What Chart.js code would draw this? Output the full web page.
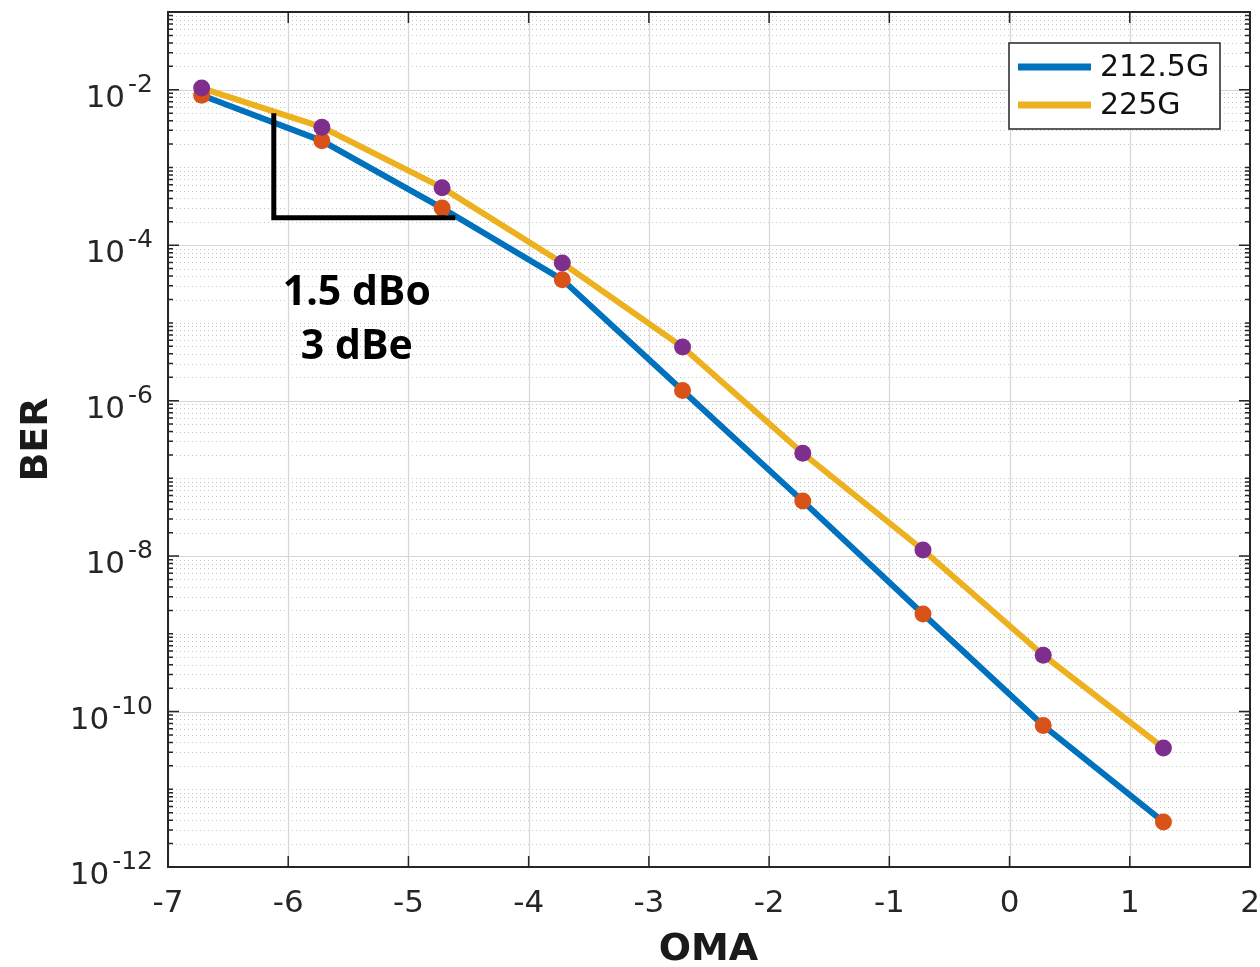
<!DOCTYPE html>
<html>
<head>
<meta charset="utf-8">
<script src="https://cdn.jsdelivr.net/npm/chart.js@4.4.1/dist/chart.umd.min.js"></script>
<style>
  html, body { margin: 0; padding: 0; background: #fff; }
  #wrap { width: 1260px; height: 967px; }
</style>
</head>
<body>
<div id="wrap"><canvas id="berChart" width="1260" height="967"></canvas></div>
<script>
// OMA (dBm) positions of the measured points
const omaValues = [-6.72, -5.72, -4.72, -3.72, -2.72, -1.72, -0.72, 0.28, 1.28];
// BER per rate
const ber212 = [8.5e-3, 2.2e-3, 3.0e-4, 3.6e-5, 1.35e-6, 5.1e-8, 1.8e-9, 6.6e-11, 3.8e-12];
const ber225 = [1.05e-2, 3.3e-3, 5.5e-4, 5.9e-5, 4.9e-6, 2.1e-7, 1.2e-8, 5.3e-10, 3.4e-11];
const seriesNames = ["212.5G", "225G"];

// axis ticks
const xTicks = [-7, -6, -5, -4, -3, -2, -1, 0, 1, 2];
const yExponents = [-12, -10, -8, -6, -4, -2];

// slope annotation (data units)
const slopeX = [-6.12, -4.61];
const slopeY = [5.0e-3, 2.25e-4];
const noteLines = ["1.5 dBo", "3 dBe"];
const noteX = -5.43;
const noteY = [1.72e-5, 3.4e-6];

const BLUE = "#0072BD", YELLOW = "#EDB120", ORANGE = "#D95319", PURPLE = "#7E2F8E";
const AXIS = "#262626";

function pts(ys) {
  return omaValues.map((x, i) => ({ x: x, y: ys[i] }));
}

// draws the MATLAB-style box, grid, ticks, labels, legend and annotation
const matlabAxes = {
  id: "matlabAxes",
  beforeDatasetsDraw(chart) {
    const { ctx, chartArea: a, scales } = chart;
    const xs = scales.x, ys = scales.y;
    ctx.save();
    ctx.beginPath();
    ctx.rect(a.left, a.top, a.right - a.left, a.bottom - a.top);
    ctx.clip();

    // minor grid (dotted)
    ctx.strokeStyle = "#c4c4c4";
    ctx.lineWidth = 1;
    ctx.setLineDash([1, 3]);
    for (let e = -12; e < -1; e++) {
      for (let k = 1; k <= 9; k++) {
        if (k === 1 && e % 2 === 0) continue;
        const y = Math.round(ys.getPixelForValue(k * Math.pow(10, e))) + 0.5;
        ctx.beginPath();
        ctx.moveTo(a.left, y);
        ctx.lineTo(a.right, y);
        ctx.stroke();
      }
    }
    ctx.setLineDash([]);

    // major grid
    ctx.strokeStyle = "#d6d6d6";
    ctx.lineWidth = 1.2;
    xTicks.forEach((v) => {
      const x = Math.round(xs.getPixelForValue(v)) + 0.5;
      ctx.beginPath();
      ctx.moveTo(x, a.top);
      ctx.lineTo(x, a.bottom);
      ctx.stroke();
    });
    yExponents.forEach((e) => {
      const y = Math.round(ys.getPixelForValue(Math.pow(10, e))) + 0.5;
      ctx.beginPath();
      ctx.moveTo(a.left, y);
      ctx.lineTo(a.right, y);
      ctx.stroke();
    });
    ctx.restore();
  },
  afterDatasetsDraw(chart) {
    const { ctx, chartArea: a, scales } = chart;
    const xs = scales.x, ys = scales.y;
    ctx.save();

    // slope triangle
    ctx.strokeStyle = "#000";
    ctx.lineWidth = 5;
    ctx.lineCap = "butt";
    ctx.beginPath();
    ctx.moveTo(xs.getPixelForValue(slopeX[0]), ys.getPixelForValue(slopeY[0]));
    ctx.lineTo(xs.getPixelForValue(slopeX[0]), ys.getPixelForValue(slopeY[1]));
    ctx.lineTo(xs.getPixelForValue(slopeX[1]), ys.getPixelForValue(slopeY[1]));
    ctx.stroke();

    ctx.fillStyle = "#000";
    ctx.font = "bold 41px 'Open Sans'";
    ctx.textAlign = "center";
    ctx.textBaseline = "alphabetic";
    noteLines.forEach((t, i) => {
      ctx.fillText(t, xs.getPixelForValue(noteX), ys.getPixelForValue(noteY[i]));
    });

    // axes box
    ctx.strokeStyle = AXIS;
    ctx.lineWidth = 2;
    ctx.strokeRect(a.left, a.top, a.right - a.left, a.bottom - a.top);

    // y ticks (inward, both sides)
    ctx.lineWidth = 1.5;
    for (let e = -12; e <= -1; e++) {
      for (let k = 1; k <= 9; k++) {
        const v = k * Math.pow(10, e);
        if (v > 0.1 + 1e-9) continue;
        const y = ys.getPixelForValue(v);
        const len = (k === 1 && e % 2 === 0) ? 11 : 5;
        ctx.beginPath();
        ctx.moveTo(a.left, y);
        ctx.lineTo(a.left + len, y);
        ctx.moveTo(a.right, y);
        ctx.lineTo(a.right - len, y);
        ctx.stroke();
      }
    }
    // x ticks (inward, top and bottom)
    xTicks.forEach((v) => {
      const x = xs.getPixelForValue(v);
      ctx.beginPath();
      ctx.moveTo(x, a.bottom);
      ctx.lineTo(x, a.bottom - 11);
      ctx.moveTo(x, a.top);
      ctx.lineTo(x, a.top + 11);
      ctx.stroke();
    });

    // x tick labels
    ctx.fillStyle = AXIS;
    ctx.font = "31px 'DejaVu Sans'";
    ctx.textAlign = "center";
    xTicks.forEach((v) => {
      ctx.fillText(String(v), xs.getPixelForValue(v), a.bottom + 45);
    });

    // y tick labels with superscript exponent
    const rightEdge = a.left - 15;
    yExponents.forEach((e) => {
      const y = ys.getPixelForValue(Math.pow(10, e));
      const expText = String(e);
      ctx.font = "25px 'DejaVu Sans'";
      const expW = ctx.measureText(expText).width;
      ctx.textAlign = "left";
      ctx.fillText(expText, rightEdge - expW, y + 2);
      ctx.font = "31px 'DejaVu Sans'";
      ctx.textAlign = "right";
      ctx.fillText("10", rightEdge - expW - 3, y + 17);
    });

    // axis titles
    ctx.fillStyle = "#1a1a1a";
    ctx.font = "bold 38px 'DejaVu Sans'";
    ctx.textAlign = "center";
    ctx.fillText("OMA", (a.left + a.right) / 2 - 0.5, 960);
    ctx.save();
    ctx.translate(47, (a.top + a.bottom) / 2);
    ctx.rotate(-Math.PI / 2);
    ctx.fillText("BER", 0, 0);
    ctx.restore();

    // legend
    const lx = 1009, ly = 43, lw = 211, lh = 86;
    ctx.fillStyle = "#fff";
    ctx.fillRect(lx, ly, lw, lh);
    ctx.strokeStyle = AXIS;
    ctx.lineWidth = 1.5;
    ctx.strokeRect(lx, ly, lw, lh);
    const legendColors = [BLUE, YELLOW];
    seriesNames.forEach((name, i) => {
      const yy = ly + 24 + i * 38;
      ctx.strokeStyle = legendColors[i];
      ctx.lineWidth = 7;
      ctx.beginPath();
      ctx.moveTo(lx + 9, yy);
      ctx.lineTo(lx + 82, yy);
      ctx.stroke();
      ctx.fillStyle = "#111";
      ctx.font = "30px 'DejaVu Sans'";
      ctx.textAlign = "left";
      ctx.textBaseline = "middle";
      ctx.fillText(name, lx + 91, yy + 1);
      ctx.textBaseline = "alphabetic";
    });

    ctx.restore();
  }
};

new Chart(document.getElementById("berChart"), {
  type: "line",
  data: {
    datasets: [
      { label: seriesNames[0], data: pts(ber212), borderColor: BLUE, borderWidth: 6, pointRadius: 0, tension: 0, order: 4 },
      { label: seriesNames[1], data: pts(ber225), borderColor: YELLOW, borderWidth: 6, pointRadius: 0, tension: 0, order: 3 },
      { label: "212.5G pts", data: pts(ber212), showLine: false, pointRadius: 8.5, pointBackgroundColor: ORANGE, pointBorderWidth: 0, order: 2 },
      { label: "225G pts", data: pts(ber225), showLine: false, pointRadius: 8.5, pointBackgroundColor: PURPLE, pointBorderWidth: 0, order: 1 }
    ]
  },
  options: {
    responsive: false,
    animation: false,
    layout: { padding: { left: 168, top: 12, right: 10, bottom: 100 } },
    scales: {
      x: { type: "linear", min: -7, max: 2, display: false },
      y: { type: "logarithmic", min: 1e-12, max: 1e-1, display: false }
    },
    plugins: {
      legend: { display: false },
      tooltip: { enabled: false }
    }
  },
  plugins: [matlabAxes]
});
</script>
</body>
</html>
